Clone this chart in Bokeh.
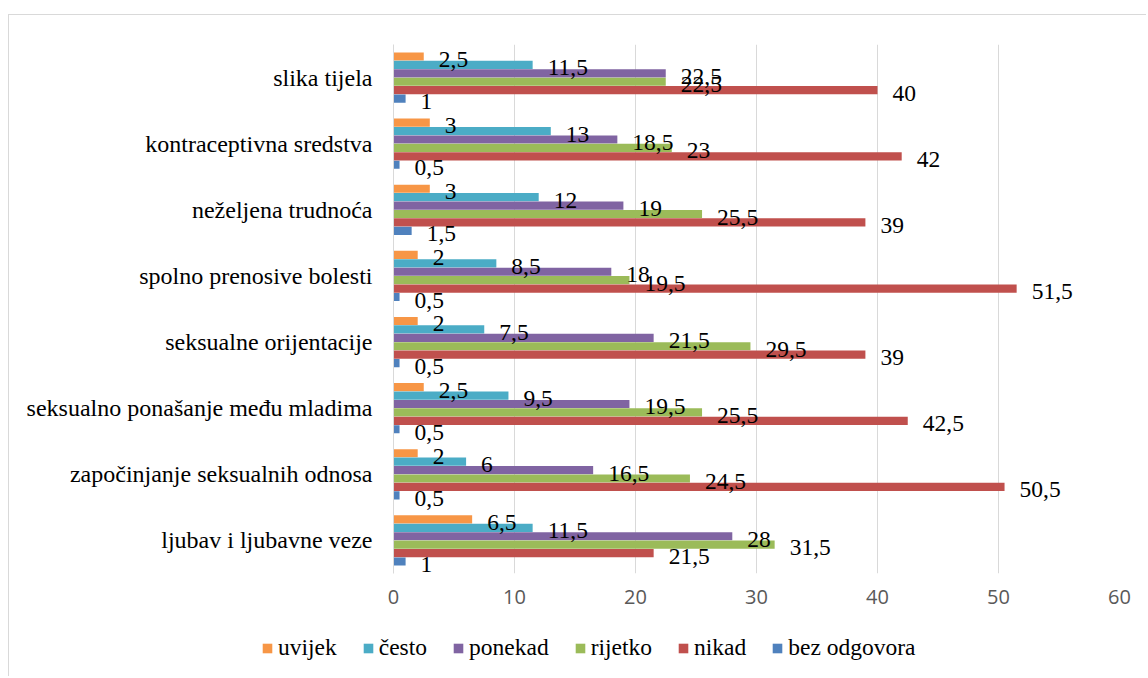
from bokeh.plotting import figure
from bokeh.layouts import column
from bokeh.models import FactorRange, Range1d, Legend, LegendItem, ColumnDataSource, SingleIntervalTicker
from bokeh.core.properties import value
from bokeh.transform import dodge
from bokeh.embed import file_html
from bokeh.resources import INLINE

categories = ["ljubav i ljubavne veze", "započinjanje seksualnih odnosa",
              "seksualno ponašanje među mladima", "seksualne orijentacije",
              "spolno prenosive bolesti", "neželjena trudnoća",
              "kontraceptivna sredstva", "slika tijela"]
series = ["uvijek", "često", "ponekad", "rijetko", "nikad", "bez odgovora"]
uvijek = [6.5, 2, 2.5, 2, 2, 3, 3, 2.5]
cesto = [11.5, 6, 9.5, 7.5, 8.5, 12, 13, 11.5]
ponekad = [28, 16.5, 19.5, 21.5, 18, 19, 18.5, 22.5]
rijetko = [31.5, 24.5, 25.5, 29.5, 19.5, 25.5, 23, 22.5]
nikad = [21.5, 50.5, 42.5, 39, 51.5, 39, 42, 40]
bez_odgovora = [1, 0.5, 0.5, 0.5, 0.5, 1.5, 0.5, 1]

values = [uvijek, cesto, ponekad, rijetko, nikad, bez_odgovora]
colors = ["#F79646", "#4BACC6", "#8064A2", "#9BBB59", "#C0504D", "#4F81BD"]

W = 1138
H1, H2 = 615, 47
serif = "Times New Roman"
border = "1px solid #d9d9d9"

p = figure(width=W, height=H1, y_range=FactorRange(*categories, range_padding=0),
           x_range=Range1d(0, 60), output_backend="svg", toolbar_location=None,
           min_border_left=384, min_border_right=28, min_border_top=29, min_border_bottom=H1 - 558)
p.frame_align = False
p.styles = {"border-top": border, "border-left": border}
p.outline_line_color = None
p.background_fill_color = "white"
p.border_fill_color = "white"

pitch = 0.1275
srcs = []
for i, (name, vals, col) in enumerate(zip(series, values, colors)):
    off = (2.5 - i) * pitch
    src = ColumnDataSource(dict(cat=categories, v=vals,
                                lab=[f"{v:g}".replace(".", ",") for v in vals]))
    srcs.append((off, src))
    p.hbar(y=dodge("cat", off, range=p.y_range), right="v", left=0, height=pitch * 0.97,
           fill_color=col, line_color=None, source=src)

for off, src in srcs:
    p.text(x="v", y=dodge("cat", off, range=p.y_range), text="lab", source=src,
           x_offset=15, y_offset=3, text_baseline="middle", text_align="left",
           text_font=value(serif), text_font_size="23.5px", text_color="black")

p.xgrid.grid_line_color = "#d9d9d9"
p.xgrid.grid_line_width = 1
p.ygrid.grid_line_color = None
p.xaxis.ticker = SingleIntervalTicker(interval=10)
p.xaxis.axis_line_color = None
p.xaxis.major_tick_line_color = None
p.xaxis.minor_tick_line_color = None
p.xaxis.major_tick_out = 0
p.xaxis.major_label_text_font = "Open Sans"
p.xaxis.major_label_text_font_size = "20px"
p.xaxis.major_label_text_color = "#595959"
p.xaxis.major_label_standoff = 12

p.yaxis.axis_line_color = "#d9d9d9"
p.yaxis.major_tick_line_color = None
p.yaxis.minor_tick_line_color = None
p.yaxis.major_tick_out = 0
p.yaxis.major_label_text_font = serif
p.yaxis.major_label_text_font_size = "24px"
p.yaxis.major_label_text_color = "black"
p.yaxis.major_label_standoff = 21

# legend strip (swatch renderers sit outside the visible range; only the legend shows)
p2 = figure(width=W, height=H2, x_range=Range1d(0, 1), y_range=Range1d(0, 1),
            output_backend="svg", toolbar_location=None, min_border=0)
p2.frame_align = False
p2.styles = {"border-left": border}
p2.xaxis.visible = False
p2.yaxis.visible = False
p2.xgrid.visible = False
p2.ygrid.visible = False
p2.outline_line_color = None
items = []
for name, col in zip(series, colors):
    r = p2.hbar(y=[0.5], left=[-50], right=[-49], height=0.0001, fill_color=col, line_color=None)
    items.append(LegendItem(label=name, renderers=[r]))
legend = Legend(items=items, orientation="horizontal", location=(252, 15),
                glyph_width=12, glyph_height=12, label_standoff=5, spacing=25,
                padding=0, margin=0, border_line_color=None, background_fill_alpha=0,
                label_text_font=serif, label_text_font_size="23.5px", label_text_color="black")
p2.add_layout(legend, "center")

layout = column(p, p2, spacing=0)
layout.margin = (14, 0, 0, 8)

open("out.html", "w").write(file_html(layout, INLINE))
